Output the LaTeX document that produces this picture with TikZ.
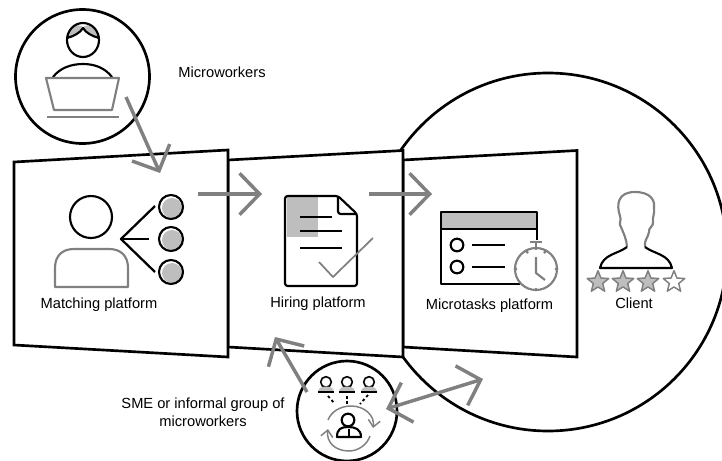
\documentclass[tikz,border=0pt]{standalone}
\usepackage{fontspec}
\setmainfont{Liberation Sans}
\usetikzlibrary{arrows.meta,shapes.geometric,calc}
\definecolor{linegray}{HTML}{808080}
\definecolor{fillgray}{HTML}{BEBEBE}

\begin{document}
\begin{tikzpicture}[x=0.75pt,y=-0.75pt,
                    line join=round,
                    every node/.style={font=\fontsize{11}{13.5}\selectfont},
                    ring/.style={circle,draw,line width=2pt,fill=white,inner sep=0pt},
                    panel/.style={draw,line width=2pt,fill=white,line join=miter},
                    flow/.style={draw=linegray,line width=2.6pt,-{Straight Barb[length=15pt,width=31pt]}},
                    flowboth/.style={draw=linegray,line width=2.6pt,{Straight Barb[length=15pt,width=31pt]}-{Straight Barb[length=15pt,width=31pt]}},
                    icon/.style={line width=1.6pt},
                    grayicon/.style={draw=linegray,line width=1.6pt}
]

\useasboundingbox (0,0) rectangle (722,461);
\clip (0,0) rectangle (722,461);

% Draw the big client circle behind the panels
\node [ring,minimum size=268.5pt] (client) at (548,252) {};

% Draw the three panels, last one first
\path [panel] (403,160) -- (577,150.5) -- (577,357) -- (403,347) -- cycle;
\path [panel] (228,160) -- (403,150.5) -- (403,357) -- (228,347) -- cycle;
\path [panel] (14,162) -- (228,150) -- (228,357) -- (14,345) -- cycle;

% Draw the two small circles
\node [ring,minimum size=100.5pt] (worker) at (82.5,76.5) {};
\node [ring,minimum size=75pt] (sme) at (347,411) {};

% Worker with laptop
\fill [fillgray] (68,37) .. controls (70,26) and (76,23) .. (83,27) .. controls (90,23) and (96,26) .. (98,37)
    .. controls (93,36) and (86,33) .. (83,28) .. controls (80,33) and (73,36) .. (68,37);
\draw [icon] (83,40) ellipse [x radius=16,y radius=17];
\draw [icon] (67,38) .. controls (74,36) and (80,33) .. (83,28) .. controls (86,33) and (92,36) .. (99,38);
\draw [icon] (53,77) .. controls (60,68) and (71,64) .. (83,64) .. controls (95,64) and (105,68) .. (112,77);
\draw [grayicon] (46,78) -- (119,78) -- (112,110) -- (54,110) -- cycle;
\draw [grayicon] (47,117) -- (119,117);

% Matching platform icon
\node [circle,draw,line width=1.6pt,minimum size=31.5pt,inner sep=0pt] (seeker) at (91,217) {};
\draw [grayicon] (55,287) -- (55,268) .. controls (55,256) and (62,249) .. (74,249) -- (109,249)
    .. controls (121,249) and (128,256) .. (128,268) -- (128,287) -- cycle;
\coordinate (fork) at (121,239);
\coordinate (fork1) at (155,206);
\coordinate (fork2) at (149,239);
\coordinate (fork3) at (155,272);
\draw [line width=1.7pt] (fork1) -- (fork) -- (fork3);
\draw [line width=1.7pt] (fork) -- (fork2);
\foreach \i/\y in {1/207,2/239,3/272}{
    \fill [fillgray] (172,\y+1) circle [radius=10];
    \node [circle,draw,line width=1.6pt,minimum size=18pt,inner sep=0pt] (match\i) at (171,\y) {};
}

% Hiring platform icon
\fill [fillgray] (287,197) rectangle (318,237);
\draw [icon,rounded corners=2pt] (338,196) -- (285,196) -- (285,286) -- (357,286) -- (357,214) -- cycle;
\draw [icon,rounded corners=2pt] (338,196) -- (338,214) -- (357,214);
\draw [icon] (300,217) -- (332,217);
\draw [icon] (300,231) -- (342,231);
\draw [icon] (300,248) -- (342,248);
\draw [draw=linegray,line width=1.3pt] (319,262) -- (333,277) -- (373,238);

% Microtasks platform icon
\fill [fillgray] (441,212) rectangle (537,229);
\draw [icon] (537,240) -- (537,212) -- (441,212) -- (441,284) -- (520,284);
\draw [icon] (441,229) -- (537,229);
\foreach \i/\y in {1/245,2/267}{
    \node [circle,draw,line width=1.6pt,minimum size=9.5pt,inner sep=0pt] (todo\i) at (457,\y) {};
    \draw [icon] (472,\y) -- (505,\y);
}
\node [circle,draw=linegray,line width=1.6pt,fill=white,minimum size=31.5pt,inner sep=0pt] (clock) at (536,269) {};
\draw [grayicon] (536,248) -- (536,242);
\draw [grayicon] (530,242) -- (542,242);
\draw [grayicon] (525,250) -- (528,253);
\draw [grayicon] (547,250) -- (544,253);
\foreach \a in {0,90,180,270}{
    \draw [grayicon] (clock.\a) -- ($(clock.\a)!0.14!(clock.center)$);
}
\draw [grayicon] (536,257) -- (536,273) -- (545,280);

% Client silhouette
\draw [grayicon] (627,247) .. controls (627,240) and (623,232) .. (621,227) .. controls (618,224) and (622,220) .. (620,216)
    .. controls (616,204) and (618,192) .. (635,192) .. controls (650,192) and (655,200) .. (654,207)
    .. controls (655,214) and (652,218) .. (653,222) .. controls (654,226) and (648,228) .. (649,232) .. controls (648,238) and (644,240) .. (645,247);
\draw [icon] (627,247) .. controls (618,254) and (603,254) .. (600,268) -- (672,268)
    .. controls (669,254) and (654,254) .. (645,247);

% Client stars
\foreach \i/\x/\col in {1/598/fillgray,2/623/fillgray,3/648/fillgray,4/674/white}{
    \node [star,star points=5,star point ratio=2.3,draw=linegray,line width=1.1pt,fill=\col,
           minimum size=17pt,inner sep=0pt] (star\i) at (\x,282) {};
}

% Group icon in the small circle
\foreach \i/\x in {1/326,2/347,3/369}{
    \node [circle,draw,line width=1.2pt,minimum size=8pt,inner sep=0pt] (member\i) at (\x,382) {};
    \fill [fillgray] (\x-8,392) .. controls (\x-8,388) and (\x-4,386.5) .. (\x,386.5) .. controls (\x+4,386.5) and (\x+8,388) .. (\x+8,392) -- cycle;
    \draw [line width=1.2pt] (\x-8,392) -- (\x+8,392);
}
\draw [line width=1.4pt,dash pattern=on 2pt off 2pt] (328,396) -- (335,404);
\draw [line width=1.4pt,dash pattern=on 2pt off 2pt] (347,396) -- (347,404);
\draw [line width=1.4pt,dash pattern=on 2pt off 2pt] (368,395) -- (360,404);
\node [circle,draw,line width=1.6pt,minimum size=9.5pt,inner sep=0pt] (leader) at (348,420) {};
\draw [icon] (337,437) .. controls (337,429) and (341,427) .. (348,427) .. controls (355,427) and (361,429) .. (361,437) -- cycle;
\draw [line width=1.1pt] (349,429) -- (349,437);
\draw [draw=linegray,line width=1.1pt,-{Straight Barb[length=5pt,width=9pt]}] (328,420) .. controls (331,412) and (340,406) .. (351,406)
    .. controls (365,406) and (375,416) .. (373,428);
\draw [draw=linegray,line width=1.1pt,-{Straight Barb[length=5pt,width=9pt]}] (370,436) .. controls (367,445) and (358,451) .. (349,451)
    .. controls (335,451) and (326,442) .. (328,429);

% Labels
\node (microworkers) at (222,72) {Microworkers};
\node (matching) at (99,305) {Matching platform};
\node (hiring) at (318,304) {Hiring platform};
\node (microtasks) at (489.5,306) {Microtasks platform};
\node (clientlabel) at (634,303) {Client};
\node [align=center] (smelabel) at (203,412) {SME or informal group of\\microworkers};

% Arrows between the panels
\coordinate (a1start) at (126,97);
\coordinate (a1end) at (160,173);
\coordinate (a2start) at (198,194);
\coordinate (a2end) at (262,194);
\coordinate (a3start) at (369,194);
\coordinate (a3end) at (432,194);
\coordinate (a4start) at (307,392);
\coordinate (a4end) at (275,337);
\coordinate (a5start) at (386,409);
\coordinate (a5end) at (483,379);
\draw [flow] (a1start) -- (a1end);
\draw [flow] (a2start) -- (a2end);
\draw [flow] (a3start) -- (a3end);
\draw [flow] (a4start) -- (a4end);
\draw [flowboth] (a5start) -- (a5end);

\end{tikzpicture}
\end{document}
